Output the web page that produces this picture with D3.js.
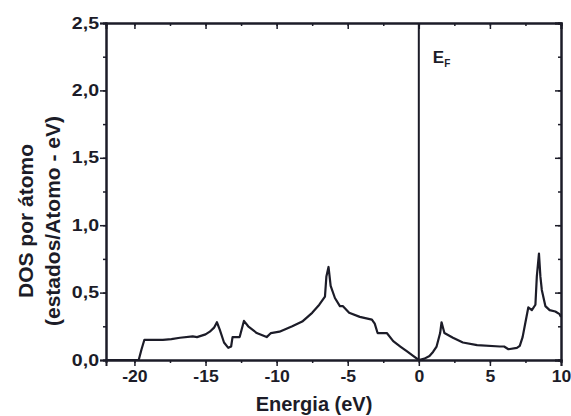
<!DOCTYPE html>
<html>
<head>
<meta charset="utf-8">
<script src="https://cdn.jsdelivr.net/npm/d3@7"></script>
<style>
  body { margin: 0; background: #fff; }
  text { font-family: Arial, "Liberation Sans", sans-serif; font-weight: bold; fill: #1c1c28; }
</style>
</head>
<body>
<svg class="dosChart"></svg>
<script>
// energy (eV) and DOS
var energia = [-22, -19.7, -19.5, -19.3, -18.0, -17.4, -16.8, -15.9, -15.6, -15.0, -14.7, -14.4, -14.2, -14.0,
  -13.7, -13.4, -13.2, -13.1, -12.6, -12.3, -12.0, -11.4, -10.7, -10.4, -9.8, -8.9, -8.2, -7.5, -7.0,
  -6.6, -6.5, -6.35, -6.2, -5.9, -5.55, -5.35, -4.9, -4.15, -3.3, -3.1, -2.9, -2.25, -1.8, -1.3, -0.85,
  -0.4, 0, 0.4, 0.75, 1.0, 1.25, 1.5, 1.6, 1.8, 2.4, 3.1, 4.1, 5.7, 6.0, 6.3, 6.9, 7.1, 7.3, 7.5, 7.7,
  7.95, 8.2, 8.3, 8.45, 8.55, 8.65, 8.9, 9.2, 9.6, 9.9, 10];
var dos = [0, 0, 0.08, 0.15, 0.15, 0.155, 0.165, 0.175, 0.17, 0.19, 0.21, 0.24, 0.28, 0.225,
  0.13, 0.09, 0.10, 0.17, 0.17, 0.29, 0.25, 0.20, 0.17, 0.20, 0.21, 0.25, 0.285, 0.35, 0.41,
  0.47, 0.62, 0.69, 0.55, 0.46, 0.40, 0.40, 0.35, 0.32, 0.30, 0.27, 0.20, 0.20, 0.14, 0.10, 0.065,
  0.03, 0, 0.01, 0.03, 0.06, 0.10, 0.20, 0.28, 0.20, 0.165, 0.13, 0.11, 0.10, 0.10, 0.08, 0.09, 0.105, 0.17, 0.28, 0.39,
  0.37, 0.41, 0.62, 0.79, 0.62, 0.52, 0.40, 0.37, 0.36, 0.34, 0.32];

var xTicks = [-20, -15, -10, -5, 0, 5, 10];
var yTicks = [0, 0.5, 1.0, 1.5, 2.0, 2.5];

var screen = { width: 571, height: 416 };
var margins = { left: 106, top: 23, right: 10, bottom: 56 };

var width = screen.width - margins.left - margins.right;
var height = screen.height - margins.top - margins.bottom;

var xScale = d3.scaleLinear().domain([-22, 10]).range([0, width]);
var yScale = d3.scaleLinear().domain([0, 2.5]).range([height, 0]);

var fmtY = function(d) { return d3.format(".1f")(d).replace(".", ","); };
var fmtX = function(d) { return String(d); }; // plain hyphen, like the original

var svg = d3.select(".dosChart")
            .attr("width", screen.width)
            .attr("height", screen.height);

var g = svg.append("g")
           .attr("transform", "translate(" + margins.left + "," + margins.top + ")");

var minorX = d3.range(-20, 10.01, 2.5);
var minorY = d3.range(0, 2.51, 0.25);

// bottom axis, ticks outward
var xAxisG = g.append("g")
  .attr("transform", "translate(0," + height + ")")
  .call(d3.axisBottom(xScale).tickValues(xTicks).tickSize(6).tickPadding(5).tickFormat(fmtX));
g.append("g")
  .attr("transform", "translate(0," + height + ")")
  .call(d3.axisBottom(xScale).tickValues(minorX).tickSize(3).tickFormat(""));

// left axis, ticks outward
var yAxisG = g.append("g")
  .call(d3.axisLeft(yScale).tickValues(yTicks).tickSize(6).tickPadding(1).tickFormat(fmtY));
g.append("g")
  .call(d3.axisLeft(yScale).tickValues(minorY).tickSize(3).tickFormat(""));

// top and right, ticks inward, no labels
g.append("g")
  .call(d3.axisTop(xScale).tickValues(xTicks).tickSize(-6).tickFormat(""));
g.append("g")
  .call(d3.axisTop(xScale).tickValues(minorX).tickSize(-3).tickFormat(""));
g.append("g")
  .attr("transform", "translate(" + width + ",0)")
  .call(d3.axisRight(yScale).tickValues(yTicks).tickSize(-6).tickFormat(""));
g.append("g")
  .attr("transform", "translate(" + width + ",0)")
  .call(d3.axisRight(yScale).tickValues(minorY).tickSize(-3).tickFormat(""));

g.selectAll(".domain").attr("stroke", "#1c1c28").attr("stroke-width", 2);
g.selectAll(".tick line").attr("stroke", "#1c1c28").attr("stroke-width", 1.5);
g.selectAll(".tick text").style("font-size", "16px").attr("fill", "#1c1c28");

// the original's tick labels are a little wider than plain Arial
var widen = function(sel, k) {
  sel.each(function() {
    var w = this.getComputedTextLength();
    d3.select(this).attr("textLength", w * k).attr("lengthAdjust", "spacingAndGlyphs");
  });
};
widen(yAxisG.selectAll(".tick text"), 1.22);
widen(xAxisG.selectAll(".tick text"), 1.1);

// Fermi level
g.append("line")
  .attr("x1", xScale(0)).attr("x2", xScale(0))
  .attr("y1", 0).attr("y2", height)
  .attr("stroke", "#1c1c28").attr("stroke-width", 2);

var ef = g.append("text")
  .attr("x", xScale(0) + 14)
  .attr("y", 40)
  .style("font-size", "17px")
  .text("E");
ef.append("tspan").attr("dy", 4).style("font-size", "10px").text("F");

// DOS curve
var line = d3.line()
  .x(function(d, i) { return xScale(energia[i]); })
  .y(function(d) { return yScale(d); });

g.append("path")
  .datum(dos)
  .attr("d", line)
  .attr("fill", "none")
  .attr("stroke", "#1c1c28")
  .attr("stroke-width", 2.2)
  .attr("stroke-linejoin", "round");

// axis titles
svg.append("text")
  .attr("x", 314)
  .attr("y", 411)
  .attr("text-anchor", "middle")
  .style("font-size", "20px")
  .text("Energia (eV)");

var yt = svg.append("text")
  .attr("transform", "translate(33,221) rotate(-90)")
  .attr("text-anchor", "middle")
  .style("font-size", "21px");
yt.append("tspan").attr("x", 0).attr("dy", 0).text("DOS por átomo");
yt.append("tspan").attr("x", 0).attr("dy", 27).text("(estados/Atomo - eV)");
</script>
</body>
</html>
